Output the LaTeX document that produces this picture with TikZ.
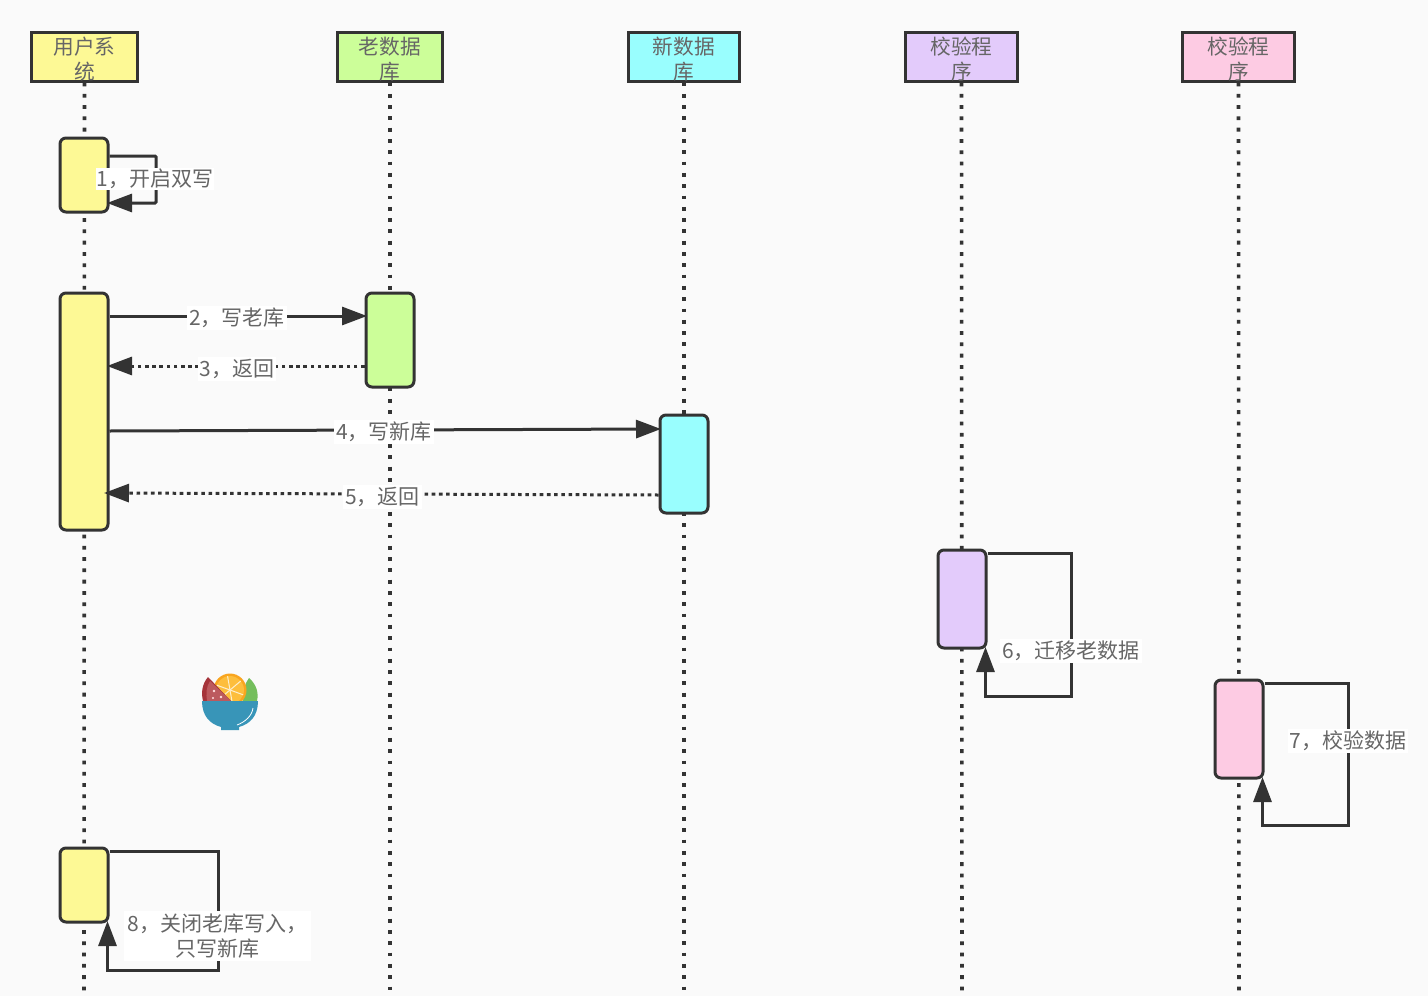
\documentclass[tikz,border=0pt]{standalone}
\usepackage{fontspec}
\setmainfont{Noto Sans CJK SC}
\usetikzlibrary{arrows.meta,calc}
\definecolor{pagebg}{HTML}{FAFAFA}
\definecolor{ink}{HTML}{333333}
\definecolor{txt}{HTML}{666666}
\definecolor{cyellow}{HTML}{FDF995}
\definecolor{cgreen}{HTML}{CCFE99}
\definecolor{ccyan}{HTML}{99FEFE}
\definecolor{cpurple}{HTML}{E3CBFB}
\definecolor{cpink}{HTML}{FDCBE3}
\definecolor{bowl}{HTML}{3895B8}
\definecolor{leaf}{HTML}{74BE5C}
\definecolor{rind}{HTML}{A5343A}
\definecolor{flesh}{HTML}{BC5A5E}
\definecolor{peel}{HTML}{F9A51F}
\definecolor{pulp}{HTML}{FDBE3C}
\newcommand{\hdrline}[1]{\smash{\raisebox{-10pt}{#1}}}
\tikzset{
  actorbox/.style={draw=ink,line width=3pt,minimum height=49pt,inner sep=0pt,text=txt,align=center,
    font=\fontsize{20.7}{25}\selectfont},
  lifeline/.style={draw=ink,line width=3.6pt,dash pattern=on 3.8pt off 7.5pt},
  actbox/.style={draw=ink,line width=3pt,rounded corners=6pt,minimum width=48pt,inner sep=0pt},
  msg/.style={draw=ink,line width=3pt,shorten >=-2.5pt,-{Triangle[length=25pt,width=18pt]}},
  retmsg/.style={msg,dash pattern=on 3.6pt off 3.6pt},
  lab/.style={fill=white,text=txt,inner sep=2pt,align=center,font=\fontsize{21}{25}\selectfont}
}
\begin{document}
\begin{tikzpicture}[x=1pt,y=-1pt]
\useasboundingbox (0,0) rectangle (1428,996);
\fill[pagebg] (0,0) rectangle (1428,996);
% headers
\node[actorbox,fill=cyellow,minimum width=106pt] (h1) at (84.5,56.5) {\hdrline{用户系}\\\hdrline{统}};
\node[actorbox,fill=cgreen,minimum width=105pt] (h2) at (390,56.5) {\hdrline{老数据}\\\hdrline{库}};
\node[actorbox,fill=ccyan,minimum width=111pt] (h3) at (684,56.5) {\hdrline{新数据}\\\hdrline{库}};
\node[actorbox,fill=cpurple,minimum width=112pt] (h4) at (961.5,56.5) {\hdrline{校验程}\\\hdrline{序}};
\node[actorbox,fill=cpink,minimum width=112pt] (h5) at (1238.5,56.5) {\hdrline{校验程}\\\hdrline{序}};
% lifeline ends
\coordinate (e1) at (84,996);
\coordinate (e2) at (390,996);
\coordinate (e3) at (684,996);
\coordinate (e4) at (962,996);
\coordinate (e5) at (1239,996);
\draw[lifeline] (h1.south) -- (e1);
\draw[lifeline] (h2.south) -- (e2);
\draw[lifeline] (h3.south) -- (e3);
\draw[lifeline] (h4.south) -- (e4);
\draw[lifeline] (h5.south) -- (e5);
% activation boxes
\node[actbox,fill=cyellow,minimum height=74pt] (a1) at (84,175) {};
\node[actbox,fill=cyellow,minimum height=237pt] (a2) at (84,411.5) {};
\node[actbox,fill=cgreen,minimum height=94pt] (a3) at (390,340) {};
\node[actbox,fill=ccyan,minimum height=98pt] (a4) at (684,464) {};
\node[actbox,fill=cpurple,minimum height=98pt] (a5) at (962,599) {};
\node[actbox,fill=cpink,minimum height=98pt] (a6) at (1239,729) {};
\node[actbox,fill=cyellow,minimum height=74pt] (a7) at (84,885) {};
% messages
\draw[msg] (a2.east |- 0,316) -- node[lab,pos=.5,yshift=-2pt] (l2) {2，写老库} (a3.west |- 0,316);
\draw[retmsg] (a3.west |- 0,366) -- node[lab,pos=.5,yshift=-3pt] (l3) {3，返回} (a2.east |- 0,366);
\draw[msg] (a2.east |- 0,431) -- node[lab,pos=.5,yshift=-2pt] (l4) {4，写新库} (a4.west |- 0,429);
\draw[retmsg] (a4.west |- 0,495) -- node[lab,pos=.5,yshift=-3pt] (l5) {5，返回} ($(a2.east |- 0,493)+(-3,0)$);
% self loops
\draw[msg,rounded corners=1pt] (a1.east |- 0,156) -| (156,203) -- (a1.east |- 0,203);
\node[lab,inner sep=1pt] (l1) at (155,179) {1，开启双写};
\draw[msg] (a5.east |- 0,553) -| (1071,696) -| ($(a5.south east)+(-2,0)$);
\node[lab] (l6) at (1071,651) {6，迁移老数据};
\draw[msg] (a6.east |- 0,683) -| (1348,825) -| ($(a6.south east)+(-2,0)$);
\node[lab] (l7) at (1348,741) {7，校验数据};
\draw[msg] (a7.east |- 0,851) -| (218,970) -| ($(a7.south east)+(-2,0)$);
\node[lab,inner xsep=4pt,inner ysep=3pt] (l8) at (217.5,936) {8，关闭老库写入，\\只写新库};
% bowl logo
\begin{scope}
\fill[leaf] (249,678) .. controls (256,684) and (259,692) .. (257,701) -- (243,701) .. controls (243,691) and (245,683) .. (249,678) -- cycle;
\fill[peel] (230,690) circle (16.5);
\fill[pulp] (230,690) circle (14);
\foreach \a in {20,80,140,200,260,320} \draw[white!75!pulp,line width=1pt] (230,690) -- ++(\a:14);
\fill[rind] (208,677) .. controls (202,684) and (201,693) .. (203,701) -- (231,701) -- cycle;
\fill[flesh] (210,681) .. controls (206,687) and (206,694) .. (207,701) -- (231,701) -- cycle;
\fill[pink!50!white] (214,691) circle (1.3) (221,697) circle (1.3) (213,698) circle (1.2);
\fill[bowl] (202,701) -- (258,701) .. controls (258,716) and (250,724) .. (239,727) -- (239,730) -- (221,730) -- (221,727) .. controls (210,724) and (202,716) .. (202,701) -- cycle;
\draw[white,line width=.8pt] (253,708) .. controls (252,716) and (245,722) .. (237,725);
\end{scope}
\end{tikzpicture}
\end{document}
